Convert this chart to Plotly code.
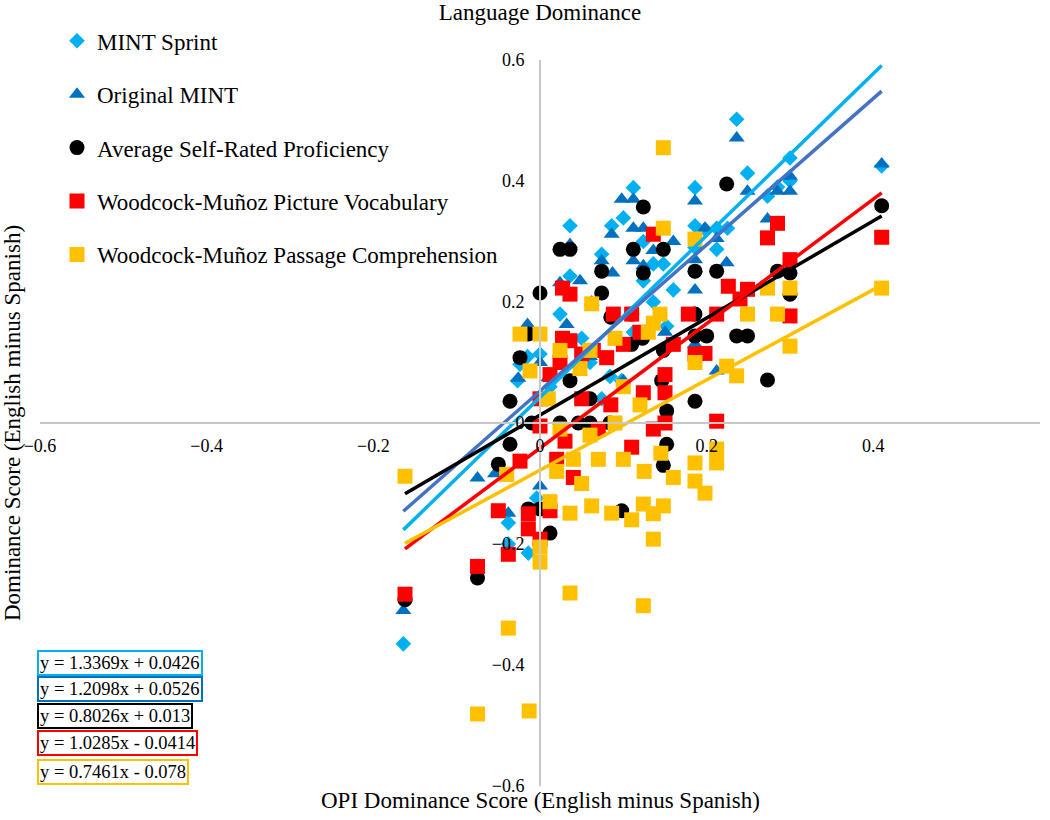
import plotly.graph_objects as go

# ---------------- data ----------------
sprint_x = [-0.164, -0.038, -0.038, -0.014, -0.004, -0.027, -0.015, 0.0, -0.024, 0.012,
            0.024, 0.036, 0.036, 0.05, 0.06, 0.074, 0.086, 0.1, 0.112, 0.084,
            0.098, 0.112, 0.124, 0.136, 0.148, 0.152, 0.16, 0.074, 0.186, 0.186,
            0.186, 0.198, 0.212, 0.212, 0.225, 0.236, 0.249, 0.273, 0.285, 0.3,
            0.3, 0.41, 0.186, 0.124, 0.136]
sprint_y = [-0.365, -0.165, -0.2, -0.215, -0.124, 0.07, 0.11, 0.114, 0.097, 0.06,
            0.18, 0.243, 0.326, 0.14, 0.1, 0.279, 0.326, 0.339, 0.389, 0.077,
            0.07, 0.15, 0.235, 0.263, 0.263, 0.16, 0.22, 0.04, 0.389, 0.326,
            0.25, 0.32, 0.322, 0.287, 0.322, 0.502, 0.413, 0.375, 0.39, 0.438,
            0.4, 0.425, 0.29, 0.3, 0.2]

orig_x = [-0.164, -0.075, -0.054, -0.038, 0.0, -0.026, -0.015, 0.0, 0.01, 0.032,
          0.024, 0.036, 0.048, 0.062, 0.074, 0.087, 0.086, 0.098, 0.112, 0.112,
          0.124, 0.112, 0.124, 0.1, 0.06, 0.16, 0.15, 0.186, 0.186, 0.186,
          0.198, 0.212, 0.224, 0.212, 0.236, 0.249, 0.273, 0.285, 0.3, 0.3,
          0.41, 0.186, 0.136]
orig_y = [-0.31, -0.091, -0.084, -0.149, -0.104, 0.074, 0.163, 0.1, 0.075, 0.163,
          0.232, 0.295, 0.235, 0.2, 0.268, 0.248, 0.312, 0.37, 0.37, 0.322,
          0.322, 0.268, 0.26, 0.07, 0.11, 0.3, 0.15, 0.367, 0.27, 0.22,
          0.322, 0.305, 0.265, 0.086, 0.471, 0.383, 0.337, 0.383, 0.383, 0.408,
          0.428, 0.13, 0.285]

self_x = [-0.162, -0.075, -0.05, -0.036, -0.036, -0.024, -0.014, 0.0, 0.024, 0.036,
          0.074, 0.074, 0.112, 0.124, 0.124, 0.148, -0.014, 0.0, 0.012, 0.098,
          0.186, 0.186, 0.2, 0.236, 0.249, 0.224, 0.186, 0.212, 0.285, 0.3,
          0.3, 0.273, 0.186, 0.41, -0.01, 0.024, 0.046, 0.06, 0.084, 0.036,
          0.06, 0.085, 0.11, 0.146, 0.152, 0.152, 0.148, 0.123, 0.148, 0.11]
self_y = [-0.292, -0.256, -0.068, -0.035, 0.036, 0.108, 0.147, 0.215, 0.287, 0.287,
          0.251, 0.215, 0.287, 0.357, 0.248, 0.287, -0.142, -0.142, -0.182, -0.145,
          0.18, 0.144, 0.144, 0.144, 0.144, 0.395, 0.251, 0.251, 0.251, 0.248,
          0.213, 0.071, 0.036, 0.359, 0.0, 0.0, 0.0, 0.0, 0.0, 0.07,
          0.04, 0.175, 0.13, 0.07, 0.02, -0.035, -0.07, 0.14, 0.12, 0.18]

vocab_x = [-0.162, -0.075, -0.05, -0.038, -0.014, -0.014, 0.0, 0.012, -0.024, 0.027,
           0.036, 0.136, 0.027, 0.036, 0.024, 0.05, 0.064, 0.08, 0.088, 0.11,
           0.12, 0.1, 0.16, 0.15, 0.15, 0.15, 0.0, 0.03, 0.05, 0.07,
           0.085, 0.02, 0.04, 0.178, 0.212, 0.186, 0.198, 0.212, 0.226, 0.24,
           0.249, 0.285, 0.273, 0.3, 0.3, 0.41, 0.124, 0.11, 0.136, 0.0,
           0.012]
vocab_y = [-0.283, -0.237, -0.145, -0.217, -0.15, -0.175, -0.192, -0.145, -0.063, 0.223,
           0.213, 0.312, 0.14, 0.136, 0.1, 0.114, 0.12, 0.108, 0.18, 0.18,
           0.15, 0.13, 0.13, 0.08, 0.05, 0.0, -0.005, -0.03, 0.04, -0.01,
           0.03, -0.06, -0.09, 0.18, 0.18, 0.114, 0.115, 0.003, 0.226, 0.205,
           0.221, 0.33, 0.306, 0.27, 0.177, 0.307, 0.05, -0.04, -0.01, 0.04,
           0.08]

passage_x = [-0.162, -0.075, -0.013, -0.038, 0.036, 0.124, 0.136, 0.0, 0.0, 0.012,
             0.036, 0.062, 0.086, 0.11, 0.124, 0.136, 0.148, 0.148, 0.148, 0.062,
             -0.024, 0.0, 0.024, -0.012, 0.01, 0.048, 0.06, 0.09, 0.144, 0.13,
             0.1, 0.024, 0.06, 0.09, 0.04, 0.07, 0.1, 0.125, 0.145, 0.16,
             0.02, 0.05, -0.04, 0.186, 0.186, 0.212, 0.212, 0.186, 0.186, 0.198,
             0.224, 0.236, 0.249, 0.285, 0.273, 0.3, 0.3, 0.41, 0.12, 0.136]
passage_y = [-0.088, -0.481, -0.476, -0.339, -0.281, -0.302, -0.192, -0.23, -0.205, -0.13,
             -0.149, -0.137, -0.149, -0.16, -0.134, -0.15, -0.137, 0.455, 0.322, 0.197,
             0.147, 0.147, 0.12, 0.086, 0.04, 0.09, 0.12, 0.14, 0.18, 0.15,
             0.06, -0.01, -0.02, 0.0, -0.06, -0.06, -0.06, -0.08, -0.05, -0.09,
             -0.08, -0.1, -0.085, 0.304, 0.1, -0.043, -0.066, -0.066, -0.096, -0.116,
             0.094, 0.078, 0.18, 0.18, 0.223, 0.223, 0.127, 0.223, 0.03, 0.165]

series_names = ["MINT Sprint", "Original MINT", "Average Self-Rated Proficiency",
                "Woodcock-Muñoz Picture Vocabulary", "Woodcock-Muñoz Passage Comprehension"]
trend_slopes = [1.3369, 1.2098, 0.8026, 1.0285, 0.7461]
trend_intercepts = [0.0426, 0.0526, 0.013, -0.0414, -0.078]
trend_labels = ["y = 1.3369x + 0.0426", "y = 1.2098x + 0.0526", "y = 0.8026x + 0.013",
                "y = 1.0285x - 0.0414", "y = 0.7461x - 0.078"]
tick_vals = [-0.6, -0.4, -0.2, 0, 0.2, 0.4, 0.6]
tick_text = ["\u22120.6", "\u22120.4", "\u22120.2", "0", "0.2", "0.4", "0.6"]

# ---------------- styling ----------------
marker_colors = ["#00B0F0", "#0070C0", "#000000", "#FF0000", "#FFC000"]
line_colors = ["#00B0F0", "#4472C4", "#000000", "#FF0000", "#FFC000"]
box_colors = ["#00B0F0", "#0070C0", "#000000", "#FF0000", "#FFC000"]
symbols = ["diamond", "triangle-up", "circle", "square", "square"]
sizes = [12, 14, 15, 15, 15]
FONT = "Liberation Serif, Times New Roman, serif"

W, H = 1050, 820
ML, MR, MT, MB = 40, 10, 60, 34
plot_h = H - MT - MB

xs = [sprint_x, orig_x, self_x, vocab_x, passage_x]
ys = [sprint_y, orig_y, self_y, vocab_y, passage_y]

fig = go.Figure()
for i in range(5):
    fig.add_trace(go.Scatter(
        x=xs[i], y=ys[i], mode="markers", name=series_names[i],
        legendgroup=f"g{i}",
        marker=dict(symbol=symbols[i], size=sizes[i], color=marker_colors[i],
                    line=dict(width=0)),
    ))

for i in range(5):
    x0, x1 = min(xs[i]), max(xs[i])
    fig.add_trace(go.Scatter(
        x=[x0, x1],
        y=[trend_slopes[i] * x0 + trend_intercepts[i], trend_slopes[i] * x1 + trend_intercepts[i]],
        mode="lines", line=dict(color=line_colors[i], width=3.5),
        showlegend=False, hoverinfo="skip",
    ))

annotations = []
# box centres in page pixels (y), converted to paper coordinates
box_y_px = [663, 689, 716, 743, 772]
for i in range(5):
    annotations.append(dict(
        text=trend_labels[i], xref="paper", yref="paper",
        x=-0.003, y=1 - (box_y_px[i] - MT) / plot_h,
        xanchor="left", yanchor="middle", showarrow=False,
        font=dict(family=FONT, size=18.5, color="black"),
        bordercolor=box_colors[i], borderwidth=2, borderpad=1,
        bgcolor="white",
    ))

annotations.append(dict(
    text="OPI Dominance Score (English minus Spanish)", xref="paper", yref="paper",
    x=0.5, y=-0.02, xanchor="center", yanchor="middle", showarrow=False,
    font=dict(family=FONT, size=23, color="black"),
))
annotations.append(dict(
    text="Dominance Score (English minus Spanish)", xref="paper", yref="paper",
    x=-0.028, y=0.5, xanchor="center", yanchor="middle", showarrow=False,
    textangle=-90, font=dict(family=FONT, size=23, color="black"),
))

fig.update_layout(
    width=W, height=H,
    margin=dict(l=ML, r=MR, t=MT, b=MB),
    paper_bgcolor="white", plot_bgcolor="white",
    font=dict(family=FONT, size=18, color="black"),
    title=dict(text="Language Dominance", x=0.5, xref="paper", xanchor="center",
               y=1 - 12 / H, yanchor="middle",
               font=dict(family=FONT, size=23, color="black")),
    xaxis=dict(range=[-0.6, 0.6], tickvals=tick_vals, ticktext=tick_text,
               showgrid=False, zeroline=False, showline=True,
               linecolor="#C8C8C8", linewidth=2, anchor="free", position=0.5,
               ticks="", ticklabelstandoff=6, tickfont=dict(family=FONT, size=18)),
    yaxis=dict(range=[-0.6, 0.6], tickvals=tick_vals, ticktext=tick_text,
               showgrid=False, zeroline=False, showline=True,
               linecolor="#C8C8C8", linewidth=2, anchor="free", position=0.5,
               ticks="", ticklabelstandoff=11, tickfont=dict(family=FONT, size=18)),
    legend=dict(x=0.017, y=1.056, xanchor="left", yanchor="top",
                font=dict(family=FONT, size=23), tracegroupgap=20.5,
                bgcolor="rgba(0,0,0,0)"),
    annotations=annotations,
    showlegend=True,
)

# remove the browser's default 8px body margin so the figure sits at (0, 0)
fig.write_html("out.html", config={"displayModeBar": False},
               post_script="document.body.style.margin='0';")
